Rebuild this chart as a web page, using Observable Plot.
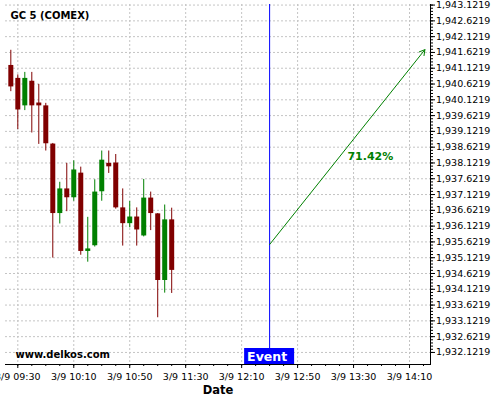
<!DOCTYPE html>
<html>
<head>
<meta charset="utf-8">
<script src="https://cdn.jsdelivr.net/npm/d3@7"></script>
<script src="https://cdn.jsdelivr.net/npm/@observablehq/plot@0.6"></script>
<style>
  html, body { margin: 0; padding: 0; background: #fff; }
  #chart svg { font-family: "DejaVu Sans", sans-serif; background: #fff; }
</style>
</head>
<body>
<div id="chart"></div>
<script>
// ---- data ----
const day = "2023-03-09";
const times = ["09:25","09:30","09:35","09:40","09:45","09:50","09:55","10:00","10:05","10:10","10:15","10:20",
               "10:25","10:30","10:35","10:40","10:45","10:50","10:55","11:00","11:05","11:10","11:15","11:20"];
const opens  = [1941.21,1940.80,1939.93,1940.71,1940.02,1939.93,1938.72,1936.52,1937.30,1937.02,1937.80,1935.32,
                1935.50,1937.21,1938.11,1938.12,1936.70,1936.20,1936.41,1935.81,1937.01,1936.51,1934.40,1936.32];
const highs  = [1941.69,1940.91,1940.99,1940.99,1940.61,1940.01,1938.74,1937.51,1938.11,1938.19,1937.99,1936.40,
                1937.59,1938.50,1938.50,1938.39,1937.30,1936.90,1936.70,1937.60,1937.20,1936.52,1936.79,1936.69];
const lows   = [1940.38,1939.18,1939.78,1939.07,1938.71,1938.50,1935.11,1936.19,1936.58,1936.91,1935.20,1934.98,
                1935.46,1936.91,1937.79,1936.66,1935.49,1936.07,1935.49,1935.78,1935.98,1933.22,1934.00,1933.99];
const closes = [1940.53,1939.80,1940.80,1939.93,1939.93,1938.73,1936.52,1937.30,1937.02,1937.90,1935.32,1935.40,
                1937.20,1938.21,1938.00,1936.70,1936.20,1936.41,1936.00,1937.01,1936.52,1934.40,1936.32,1934.72];

const eventTime = "12:30";
const eventPrice = 1935.54;
const targetTime = "14:21";
const targetPrice = 1941.71;
const probLabel = "71.42%";
const probLabelTime = "13:42";
const probLabelPrice = 1938.34;

const xTickLabels = ["09:30","10:10","10:50","11:30","12:10","12:50","13:30","14:10"];
const yTickValues = d3.range(0, 23).map(i => 1932.1219 + i * 0.5);
const yMinorValues = d3.range(0, 111).map(i => 1932.1219 + i * 0.1);

const title = "GC 5 (COMEX)";
const watermark = "www.delkos.com";
const xLabel = "Date";
const eventText = "Event";

// ---- build ----
const T = s => new Date(`${day}T${s}:00Z`);
const candles = times.map((t, i) => ({
  date: T(t), open: opens[i], high: highs[i], low: lows[i], close: closes[i]
}));
const xDomain = [new Date(`${day}T09:21:12Z`), T("14:25")];
const xTicks = xTickLabels.map(T);
const xMinor = d3.utcMinute.every(10).range(T("09:30"), T("14:21"));
const up = d => d.close >= d.open ? "#008000" : "#800000";
const gridColor = "#c4c4c4";
const fmtX = d3.utcFormat("%-m/%-d %H:%M");

const eventLabel = (index, scales, values, dims) => {
  const g = d3.create("svg:g");
  const cx = scales.x(T(eventTime));
  const yb = dims.height - dims.marginBottom;
  g.append("rect").attr("x", cx - 25).attr("y", yb - 16).attr("width", 50).attr("height", 16).attr("fill", "#0000ff");
  g.append("text").attr("x", cx - 2).attr("y", yb - 8).attr("dy", "0.36em")
    .attr("text-anchor", "middle").attr("fill", "#fff").attr("font-weight", "bold")
    .attr("font-size", 12.5).text(eventText);
  return g.node();
};

const chart = Plot.plot({
  width: 500,
  height: 400,
  marginLeft: 5,
  marginRight: 70,
  marginTop: 4,
  marginBottom: 36,
  x: { type: "utc", domain: xDomain },
  y: { domain: [1931.74, 1943.14] },
  marks: [
    Plot.gridX(xTicks, { stroke: gridColor, strokeOpacity: 1, strokeDasharray: "2,2" }),
    Plot.gridY(yTickValues, { stroke: gridColor, strokeOpacity: 1, strokeDasharray: "2,2" }),
    Plot.axisY({ anchor: "right", ticks: yTickValues, tickFormat: d3.format(",.4f"), tickSize: 4, tickPadding: 1.5, fontSize: 9.5, label: null, color: "#000" }),
    Plot.axisY({ anchor: "right", ticks: yMinorValues, tickFormat: () => "", tickSize: 2, label: null }),
    Plot.axisX({ ticks: xTicks, tickFormat: fmtX, tickSize: 4, tickPadding: 5, fontSize: 9.5, label: null }),
    Plot.axisX({ ticks: xMinor, tickFormat: () => "", tickSize: 2, label: null }),
    Plot.ruleX(candles, { x: "date", y1: "low", y2: "high", stroke: up, strokeWidth: 1 }),
    Plot.ruleX(candles, { x: "date", y1: "open", y2: "close", stroke: up, strokeWidth: 5 }),
    Plot.ruleX([T(eventTime)], { stroke: "#0000ff", strokeWidth: 1 }),
    Plot.arrow([{ x1: T(eventTime), y1: eventPrice, x2: T(targetTime), y2: targetPrice }],
      { x1: "x1", y1: "y1", x2: "x2", y2: "y2", stroke: "#008000", strokeWidth: 1, headLength: 9 }),
    Plot.text([{ x: T(probLabelTime), y: probLabelPrice }], { x: "x", y: "y", text: () => probLabel, fill: "#008000", fontWeight: "bold", fontSize: 11 }),
    Plot.frame({ anchor: "right", stroke: "#000" }),
    Plot.frame({ anchor: "bottom", stroke: "#000" }),
    eventLabel,
    Plot.text([title], { frameAnchor: "top-left", dx: 5, dy: 11.5, lineAnchor: "middle", fontWeight: "bold", fontSize: 10, fill: "#000" }),
    Plot.text([watermark], { frameAnchor: "bottom-left", dx: 10, dy: -10, lineAnchor: "middle", fontWeight: "bold", fontSize: 10, fill: "#000" }),
    Plot.text([xLabel], { frameAnchor: "bottom", dy: 26, lineAnchor: "middle", fontWeight: "bold", fontSize: 11.5, fill: "#000" })
  ]
});
document.getElementById("chart").appendChild(chart);
</script>
</body>
</html>
